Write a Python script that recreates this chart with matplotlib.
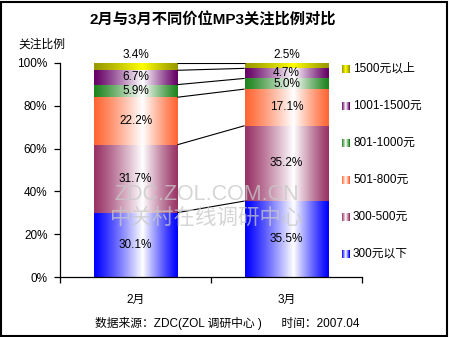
import matplotlib
matplotlib.use("Agg")
import matplotlib.pyplot as plt
import numpy as np
from matplotlib.colors import to_rgb
from matplotlib.patches import Rectangle

plt.rcParams["font.family"] = ["Liberation Sans", "Noto Sans CJK SC"]

months = ["2月", "3月"]
series_names = ["300元以下", "300-500元", "501-800元", "801-1000元", "1001-1500元", "1500元以上"]
feb_share = [30.1, 31.7, 22.2, 5.9, 6.7, 3.4]
mar_share = [35.5, 35.2, 17.1, 5.0, 4.7, 2.5]
y_ticks = [0, 20, 40, 60, 80, 100]

edge_colors = ["#0000ff", "#993366", "#ff6633", "#1e841e", "#660066", "#999900"]
mid_colors = ["#ffffff", "#ffffff", "#ffffff", "#ffffff", "#ffffff", "#ffff00"]

W, H = 450, 337
BAR_W = 0.555


def gradient_strip(edge, mid, n=96, peak=0.58, gamma=1.15):
    t = np.linspace(0, 1, n)
    w = np.where(t < peak, t / peak, (1 - t) / (1 - peak))
    w = np.clip(w, 0, 1) ** gamma
    e = np.array(to_rgb(edge))
    m = np.array(to_rgb(mid))
    rgb = e[None, :] * (1 - w[:, None]) + m[None, :] * w[:, None]
    return rgb[None, :, :]


fig = plt.figure(figsize=(W / 100, H / 100), dpi=100)
fig.patch.set_facecolor("white")

ax = fig.add_axes([60 / W, 1 - 277 / H, 302 / W, 214 / H])

shares = [feb_share, mar_share]
centers = np.arange(len(months)) + 0.5
tops = []
for xc, vals in zip(centers, shares):
    bottom = 0.0
    cum = []
    for i, v in enumerate(vals):
        ax.imshow(gradient_strip(edge_colors[i], mid_colors[i]),
                  extent=[xc - BAR_W / 2, xc + BAR_W / 2, bottom, bottom + v],
                  aspect="auto", interpolation="bilinear", zorder=2)
        if i == len(vals) - 1:
            ax.text(xc, bottom + v + 1, f"{v:.1f}%", ha="center", va="bottom",
                    fontsize=8.5, clip_on=False, zorder=4)
        else:
            ax.text(xc, bottom + v / 2, f"{v:.1f}%", ha="center", va="center",
                    fontsize=8.5, zorder=4)
        bottom += v
        cum.append(bottom)
    tops.append(cum)

# series lines between the bars
for a, b in zip(tops[0], tops[1]):
    ax.plot([centers[0] + BAR_W / 2, centers[1] - BAR_W / 2], [a, b],
            color="black", lw=0.8, zorder=3, solid_capstyle="butt")

ax.set_xlim(0, 2)
ax.set_ylim(0, 100)
ax.set_aspect("auto")
ax.patch.set_alpha(0)
for side in ["top", "right"]:
    ax.spines[side].set_visible(False)
ax.spines["left"].set_linewidth(0.9)
ax.spines["bottom"].set_linewidth(0.9)

ax.set_yticks(y_ticks)
ax.set_yticklabels([f"{t}%" for t in y_ticks], fontsize=8.5)
ax.tick_params(axis="y", direction="out", length=4, width=0.9, pad=5)
ax.set_xticks([0, 1, 2])
ax.set_xticklabels([])
ax.tick_params(axis="x", direction="out", length=4, width=0.9)
ax.set_xticks(centers, minor=True)
ax.set_xticklabels(months, minor=True, fontsize=8.5)
ax.tick_params(axis="x", which="minor", length=0, pad=12)

# watermark
fig.text(207 / W, 1 - 195 / H, "ZDC.ZOL.COM.CN", ha="center", va="center",
         fontsize=15.5, color="#c8c8c8", alpha=0.75, zorder=5)
fig.text(207 / W, 1 - 218 / H, "中关村在线调研中心", ha="center", va="center",
         fontsize=15.5, color="#c8c8c8", alpha=0.75, zorder=5)

# titles and notes
fig.text(213 / W, 1 - 20 / H, "2月与3月不同价位MP3关注比例对比", ha="center", va="center",
         fontsize=11, fontweight="bold")
fig.text(18 / W, 1 - 45 / H, "关注比例", ha="left", va="center", fontsize=8.5)
fig.text(227 / W, 1 - 324 / H, "数据来源：ZDC(ZOL 调研中心 )      时间：2007.04",
         ha="center", va="center", fontsize=8.5)

# legend, top entry first
legend_y = [69, 106, 143, 180, 217, 254]
for k, py in enumerate(legend_y):
    i = len(series_names) - 1 - k
    lax = fig.add_axes([342 / W, 1 - (py + 4) / H, 8 / W, 8 / H])
    lax.imshow(gradient_strip(edge_colors[i], mid_colors[i], n=16, peak=0.5, gamma=1.0),
               aspect="auto", interpolation="nearest")
    lax.axis("off")
    fig.text(353 / W, 1 - py / H, series_names[i], ha="left", va="center", fontsize=8.5)

fig.add_artist(Rectangle((1 / W, 1 / H), (W - 4) / W, (H - 3) / H,
                         transform=fig.transFigure, fill=False, ec="black", lw=1.5))

fig.savefig("out.png", dpi=100)
